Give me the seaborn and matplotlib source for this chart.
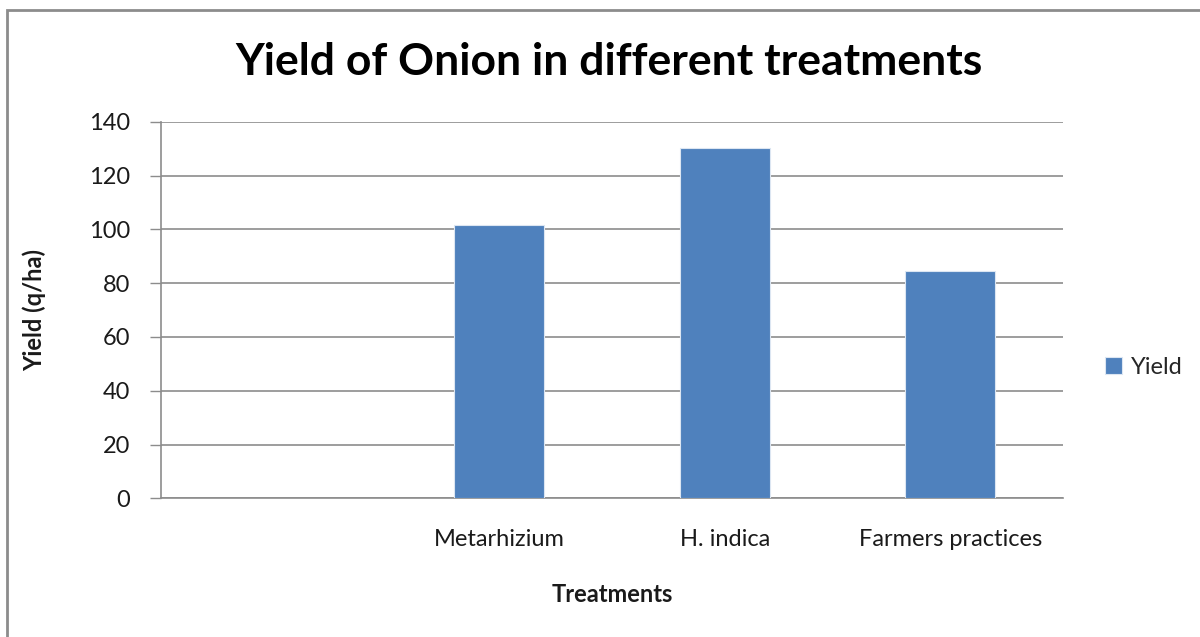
import numpy as np
import pandas as pd
import matplotlib
matplotlib.use("Agg")
import matplotlib.pyplot as plt
import seaborn as sns
from matplotlib.patches import Rectangle

# ── Data ──────────────────────────────────────────────────────────────────────
categories = ["", "Metarhizium", "H. indica", "Farmers practices"]
treatments = ["Metarhizium", "H. indica", "Farmers practices"]
yields     = [101.6, 130.3, 84.4]
series     = "Yield"

y_ticks = [0, 20, 40, 60, 80, 100, 120, 140]

df = pd.DataFrame({"Treatment": treatments, "Yield": yields, "Series": series})

# ── Style ─────────────────────────────────────────────────────────────────────
sns.set_style("white")
plt.rcParams["font.family"] = ["Lato", "DejaVu Sans"]

bar_color  = "#4F81BD"
grid_color = "#8C8C8C"
text_color = "#1a1a1a"
fs         = 17

fig = plt.figure(figsize=(12, 6.37), dpi=100)
ax  = fig.add_axes([161 / 1200, 1 - 498.3 / 637, (1063 - 161) / 1200, (498.3 - 121.7) / 637])

sns.barplot(data=df, x="Treatment", y="Yield", hue="Series", order=categories,
            palette=[bar_color], saturation=1, width=0.4, dodge=False,
            edgecolor="#DCE6F2", linewidth=0.8, ax=ax, zorder=3)

ax.set_ylim(0, 140)
ax.set_xlim(-0.5, len(categories) - 0.5)
ax.set_yticks(y_ticks)
ax.set_yticklabels([str(t) for t in y_ticks], fontsize=fs, color=text_color)
ax.tick_params(axis="y", length=8, width=1, color=grid_color, pad=14, direction="out", left=True)
ax.tick_params(axis="x", length=0, pad=22, labelsize=fs, labelcolor=text_color)
ax.yaxis.grid(True, color=grid_color, linewidth=1.2, zorder=0)
ax.set_axisbelow(True)

for side in ["top", "right"]:
    ax.spines[side].set_visible(False)
ax.spines["left"].set_color(grid_color)
ax.spines["bottom"].set_color(grid_color)
ax.spines["left"].set_linewidth(1.2)
ax.spines["bottom"].set_linewidth(1.2)

ax.set_xlabel("Treatments", fontsize=fs, fontweight="bold", color=text_color, labelpad=24)
ax.set_ylabel("Yield (q/ha)", fontsize=fs, fontweight="bold", color=text_color)
ax.yaxis.set_label_coords(-0.127, 0.5)

fig.suptitle("Yield of Onion in different treatments", x=609 / 1200, y=1 - 62 / 637,
             va="center", fontsize=32, fontweight="bold", color="black")

handles, labels = ax.get_legend_handles_labels()
ax.legend(handles, labels, loc="center left", bbox_to_anchor=(1084 / 1200, 1 - 367 / 637),
          bbox_transform=fig.transFigure, frameon=False, fontsize=fs,
          handlelength=0.7, handleheight=0.7, handletextpad=0.4)

# outer chart border (only top and left visible in the crop)
fig.patches.append(Rectangle((7 / 1200, -0.1), 1.2, 1.1 - 10 / 637, transform=fig.transFigure,
                             fill=False, edgecolor="#8C8C8C", linewidth=2))

plt.savefig("out.png", dpi=100)
plt.close()
